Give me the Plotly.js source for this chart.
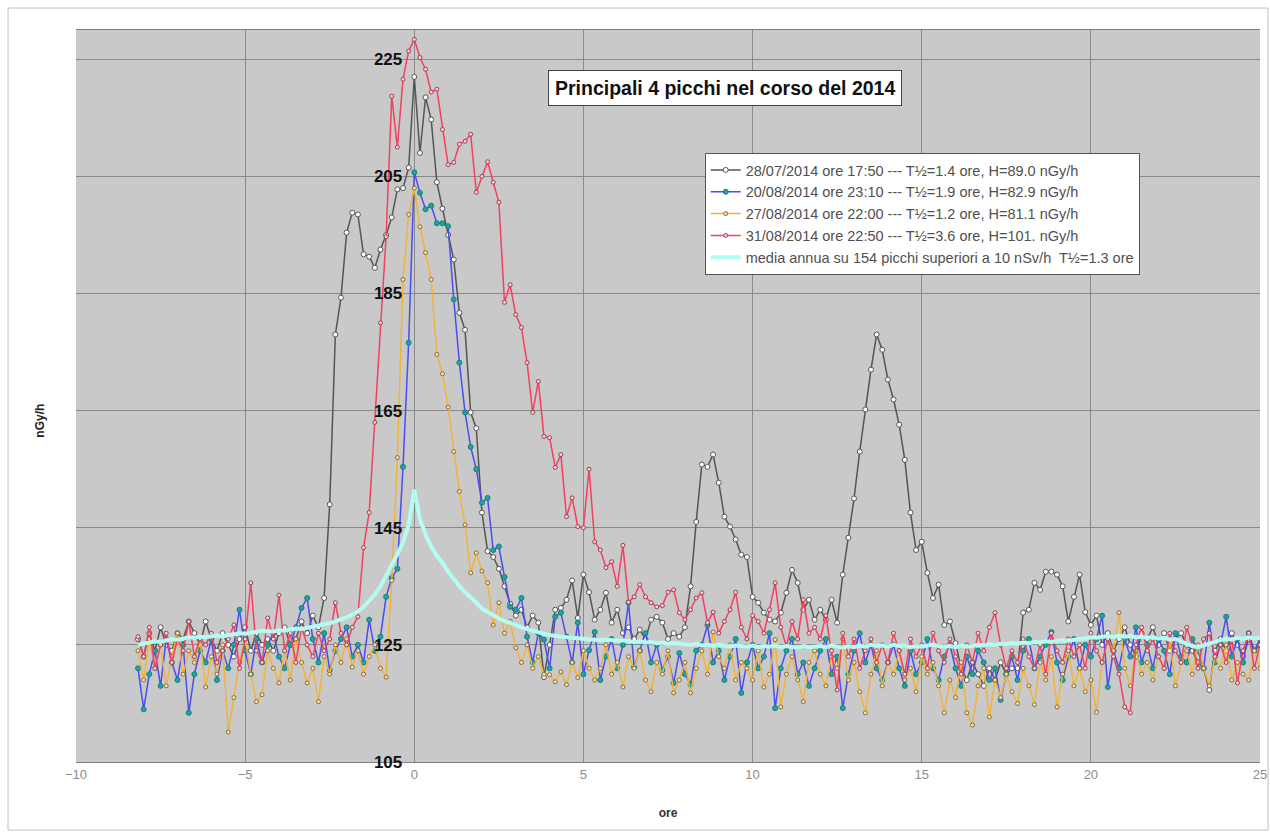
<!DOCTYPE html>
<html>
<head>
<meta charset="utf-8">
<script src="https://cdn.plot.ly/plotly-3.0.1.min.js"></script>
<style>html,body{margin:0;padding:0;background:#fff;}#chart{width:1270px;height:834px;}</style>
</head>
<body>
<div id="chart"></div>
<script>
// time grid: 10-minute samples, first sample 490 minutes before the peak
const START_MIN = -490;
const STEP_MIN = 10;

const seriesNames = [
  "28/07/2014 ore 17:50 --- T½=1.4 ore, H=89.0 nGy/h",
  "20/08/2014 ore 23:10 --- T½=1.9 ore, H=82.9 nGy/h",
  "27/08/2014 ore 22:00 --- T½=1.2 ore, H=81.1 nGy/h",
  "31/08/2014 ore 22:50 --- T½=3.6 ore, H=101. nGy/h",
  "media annua su 154 picchi superiori a 10 nSv/h  T½=1.3 ore"
];

const peak2807 = [
  126,123,127,124,128,125,124,127,126,129,127,125,
  129,126,124,127,125,123,126,128,124,127,125,126,
  124,127,128,125,126,129,127,130,128,133,149,178,
  184.3,195.4,198.8,198.5,191.7,191.3,189.4,192.5,195,198,202.8,203,
  206.5,222,209,218.5,214.7,204,199.5,195,190.8,181.7,178.8,164.7,
  162,147.6,141,140,138,135,132,130,131,128,130,128.8,
  119.5,125,131,131.3,132.7,136,129.6,137,134,129.3,131,133.9,
  128.8,131,127,128,126,127.6,126,129.3,129.8,128.8,126,127,
  126.4,128,135,146,155.8,155.4,157.5,152.7,146.9,145.2,143,140.4,
  140,133.2,132.2,130.5,129.3,129,130.5,133.9,137.8,135.6,131,132.7,
  129.3,131,129.3,132.7,128.8,137,143.3,150,158,165.2,172,178,
  175.4,170.3,166.9,162.6,156.6,147.6,141.2,142.6,137.3,133,135.3,128.4,
  129,125.3,121,119,122,120,118,121,119,122,120,121,
  121,130.5,131,135.6,134.4,137.5,137.5,137,135,129,133.2,137,
  130.6,128.4,130,125,127,124,126,128,125,123,127,126,
  128,125,127,124,126,127,125,124,122,121,117.3,124,
  126,124,127,125,123,126,124,125
];

const peak2008 = [
  121,114,120,124,118,126,122,119,125,113.4,120,124,
  122,126,119,124,121,125,131,124,120,126,122,125,
  127,123,121,125,128,131.3,133,126,122,127,120.7,124,
  126,128,123,125,122,129.3,124,126.4,133.2,136.4,138,155.4,
  176.6,205.7,202.2,199.4,200,197,197,196.5,184,173.2,164.7,158.8,
  155,149.3,150.1,141.2,141.8,136.6,131.5,131,133,126.4,122,127,
  125.9,121,129.8,130.5,126.4,122,128.8,120,124.1,127.2,119,123,
  126,121,125,132.2,121.2,124,127,122,125,120.7,123,118.5,
  123.6,120,118.2,124,125,128.4,122,124,119,123,126,116.8,
  122,125,121,123,127,114.2,121,124,126,120,122,118,
  121,124,126,120,123,114.2,120,124,127,122,125,121,
  119,122,125,121,118,124,120,122,126,121,119,123,
  125,121,118,123,120,124,122,119,121,115.6,120,123,
  119,124,126,121,123,125,127.2,122,119,123,126,121,
  125,123,126,130,117.8,124,121,126,123,128,122,125,
  121,126,124,120,127,123,122,126,124,121,128.8,122,
  125,129.8,123,126,122,127,124,126
];

const peak2708 = [
  124,119,126,121,125,118,123,127,120,124,122,126,
  117.8,123,120,125,110.1,116,122,126,120,115.3,116.5,124,
  121,118.5,124,119,126,122,118.5,121,115.3,123,120,125,
  122,126,121.2,124,120,123,125,121,119.5,136,157,187.4,
  198.5,203,196.4,192,187.4,174.6,171.3,165.6,158,151.2,145.5,137.3,
  140.7,137.6,135.6,128.4,132.2,127,129,124.5,122,125,121,123,
  120,119.9,118.7,120.4,118.2,122,119.4,124,121,119,121,125,
  120,122,117.8,123,121,124,119,117,122,120,124,116.8,
  119,122,116.8,121,124,120,127.2,123,121,125,119,122,
  121,119,124,117.8,120,125.9,114.4,120,123,119,115.3,122,
  124,120,118,123,121,126,119,122,117,113.4,120,124,
  118,122,120,124,119,121,117,123,120,122,118,113.4,
  119,116,122,113.4,111.3,118,121,112.7,119,116,120,117,
  115,121,118,114.8,122,119,123,114.4,120,124,118,121,
  117,119,113.5,122,126,124,130.5,121,118,124,120,122,
  119,123,121,126,118,122,124,120,125,121,118,123,
  121,125,119,122,120,119,124,121
];

const peak3108 = [
  126.4,123,128,121,125,127,122,126,124,129,123,126,
  125,127,122,124,126,128.4,121,126,135.6,124,122,129.6,
  126,133.5,124,127,122,128,125,123,127,124,126,132.2,
  127,125,128,129.8,141.6,147.6,163,180,194.7,218.7,210,221.6,
  226.4,228.4,225.3,223.3,219.4,219.9,213,207,207.4,210.5,211,212.2,
  202.3,205,207.5,204,200.6,183.5,186.5,181.4,179.2,173.2,164.7,170,
  160.6,160.4,155.3,157.5,146.9,150.1,145.2,145,155,142.6,141.2,138.2,
  139.2,135,142,132.3,133.2,135.3,133.2,132.2,131.5,131.7,134,134.4,
  130.5,129.3,131,133,133.9,128.8,130.6,127,129,131,134,128,
  126,130,129,127,131,135.6,128,124.7,129,126,132.7,127,
  128,126,130,124,117.3,127,123,126,121,124,126,122,
  125,122,127,124,120,126,123,125,121,127,124,122,
  126,123,120,125,122,127,124,128,130.5,125,121,124,
  122,126,123,121,125,120,127,124,122,126,123,125,
  121,127,124,122,126,123,120,114.4,113.4,125,128,124,
  126,123,121,127,124,122,128,125,121,126,127,123,
  125,122,126,118.5,124,127,121,125
];

const meanAnnual = [
  125,125.2,125.4,125.6,125.5,125.8,126,125.9,126.1,126.3,126.2,126.4,
  126.3,126.5,126.6,126.4,126.7,126.8,127,126.9,127.1,127.2,127.4,127.3,
  127.3,127.5,127.4,127.6,127.8,127.7,127.9,128.1,128.3,128.4,128.7,129,
  129.3,129.7,130.2,130.7,131.5,132.5,133.6,135,136.8,138.5,140.5,142.5,
  145.5,151.5,146.5,143.8,141.8,140.2,139,137.5,136.2,135,134,133.2,
  132.2,131.2,130.6,130,129.5,129.1,128.7,128.3,128,127.7,127.4,127.1,
  126.9,126.7,126.5,126.4,126.3,126.2,126.1,126,125.9,125.9,125.8,125.9,
  125.8,125.7,125.8,125.6,125.5,125.6,125.4,125.5,125.3,125.4,125.2,125.3,
  125.2,125.1,125,125.2,124.9,125,124.8,125,124.9,124.7,124.9,124.8,
  124.7,124.9,124.6,124.8,124.7,124.9,124.6,124.8,124.7,124.5,124.8,124.6,
  124.7,124.8,124.6,124.9,124.7,124.5,124.8,124.6,124.9,124.7,125,124.8,
  124.9,124.7,125,124.8,124.9,124.6,124.8,124.7,124.9,125,124.8,124.7,
  124.8,124.6,124.9,124.7,124.8,125,124.9,125.1,125,125.2,125.1,125.3,
  125.2,125.4,125.3,125.5,125.4,125.6,125.5,125.7,125.8,125.7,125.9,126,
  126.1,126.3,126.2,126.4,126.5,126.3,126.6,126.4,126.5,126.3,126.4,126.2,
  126.3,126.1,126.2,125.9,126,125.6,125.2,124.8,124.6,124.9,125.3,125.6,
  125.9,126.1,125.9,126.2,126,126.3,126.1,126.2
];

const yTicks = [105,125,145,165,185,205,225];
const xTicks = [-10,-5,0,5,10,15,20,25];

function hours(n){ const a=[]; for(let i=0;i<n;i++) a.push((START_MIN+i*STEP_MIN)/60); return a; }

function mk(y, name, lineColor, mFill, mLine, mSize){
  return {
    x: hours(y.length), y: y, name: name, type: 'scatter', mode: 'lines+markers',
    line: {color: lineColor, width: 1.5},
    marker: {symbol: 'circle', size: mSize, color: mFill, line: {color: mLine, width: 1}}
  };
}

const traces = [
  mk(peak2807, seriesNames[0], '#555555', '#ffffff', '#555555', 5),
  mk(peak2008, seriesNames[1], '#4c4cf0', '#1ea59f', '#16807c', 5),
  mk(peak2708, seriesNames[2], '#f3b23a', '#f2e2b8', '#8c6b2c', 4),
  mk(peak3108, seriesNames[3], '#f5405f', '#f5d0d6', '#9a4050', 4),
  {x: hours(meanAnnual.length), y: meanAnnual, name: seriesNames[4], type:'scatter', mode:'lines',
   line:{color:'#b4fbf2', width:4}}
];

const FONT = 'Liberation Sans, Arial, sans-serif';

const layout = {
  width: 1270, height: 834,
  margin: {l: 76, r: 10, t: 30, b: 72},
  paper_bgcolor: '#ffffff',
  plot_bgcolor: '#c9c9c9',
  font: {family: FONT, color: '#333'},
  showlegend: true,
  legend: {
    x: 0.531, y: 0.832, xanchor: 'left', yanchor: 'top',
    bgcolor: '#ffffff', bordercolor: '#555555', borderwidth: 1,
    font: {family: FONT, size: 14.5, color: '#505050'},
    tracegroupgap: 0
  },
  xaxis: {
    range: [-10, 25], tickvals: xTicks, ticks: '',
    showgrid: true, gridcolor: '#8a8a8a', gridwidth: 1,
    zeroline: false, showline: true, linecolor: '#808080', mirror: true,
    tickfont: {family: FONT, size: 13, color: '#8c8c8c'},
    title: {text: 'ore', font: {family: FONT, size: 12, color: '#333', weight: 'bold'}, standoff: 28}
  },
  yaxis: {
    range: [105, 230], tickvals: yTicks, ticks: '',
    anchor: 'free', position: 10/35, automargin: false,
    showgrid: true, gridcolor: '#8a8a8a', gridwidth: 1,
    zeroline: false, showline: false, ticklabelstandoff: 12,
    tickfont: {family: FONT, size: 17, color: '#111', weight: 'bold'}
  },
  annotations: [
    {text: 'Principali 4 picchi nel corso del 2014', xref: 'paper', yref: 'paper',
     x: 0.548, y: 0.921, xanchor: 'center', yanchor: 'middle', showarrow: false,
     font: {family: FONT, size: 19.5, color: '#111', weight: 'bold'},
     bgcolor: '#ffffff', bordercolor: '#444444', borderwidth: 1, borderpad: 6},
    {text: 'nGy/h', xref: 'paper', yref: 'paper', x: -0.030, y: 0.467,
     xanchor: 'center', yanchor: 'middle', showarrow: false, textangle: -90,
     font: {family: FONT, size: 12, color: '#222', weight: 'bold'}}
  ],
  shapes: [
    {type: 'rect', xref: 'paper', yref: 'paper', x0: -0.0574, x1: 1.0068, y0: -0.093, y1: 1.030,
     line: {color: '#c0c0c0', width: 1}, fillcolor: 'rgba(0,0,0,0)', layer: 'below'}
  ]
};

Plotly.newPlot('chart', traces, layout, {displayModeBar: false, staticPlot: true});
</script>
</body>
</html>
